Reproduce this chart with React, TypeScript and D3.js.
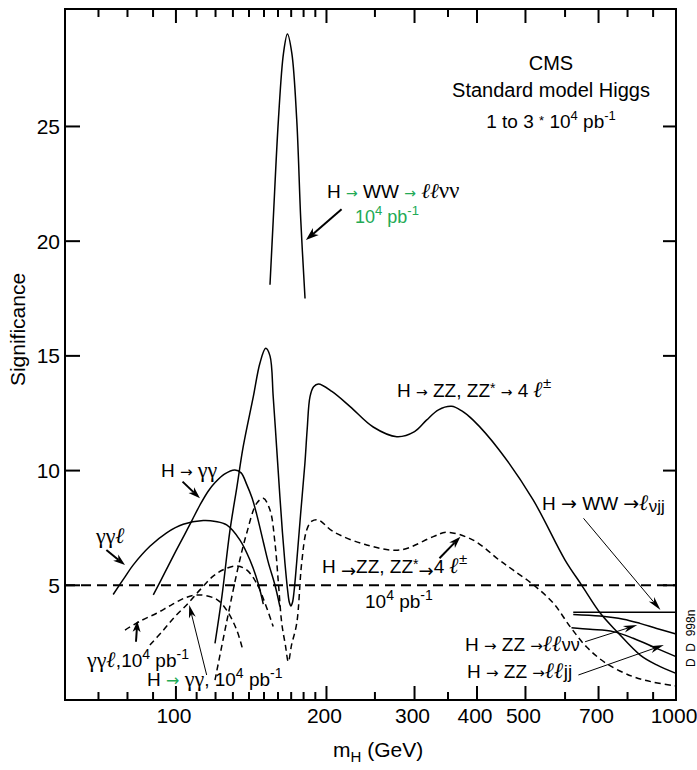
import React from 'react';
import * as d3 from 'd3';

const W = 697;
const H = 770;
const FONT = "'Liberation Sans', Arial, Helvetica, sans-serif";
const SERIF = "'Liberation Serif', 'Times New Roman', serif";
const ARROWF = "'DejaVu Sans', sans-serif";
const GREEN = '#22aa55';

// ---- axis ticks ----
const massMajor = [100, 200, 300, 400, 500, 700];
const massLabels = [100, 200, 300, 400, 500, 700, 1000];
const massMinor = [70, 80, 90, 110, 120, 130, 140, 150, 160, 170, 180, 190, 250, 350, 600, 800, 900];
const sigTicks = [5, 10, 15, 20, 25];

// ---- series: [mH (GeV), significance] ----
const wwLLvv10k = [
  [154.2, 18.1], [156.5, 20.9], [160.3, 25.3], [164.1, 28.2], [167.1, 29.03],
  [170.5, 28.2], [174.4, 25.3], [177.7, 20.9], [181.2, 17.5],
];
const zz4l = [
  [119.7, 2.47], [123.6, 4.53], [128.2, 7.37], [132.4, 9.28], [136.3, 11.04],
  [142.8, 13.22], [147.2, 14.68], [151.2, 15.33], [154.2, 15.0], [156.5, 13.22],
  [159, 11.0], [161.4, 8.86], [163.3, 7.3], [165.2, 5.96], [167.3, 4.75],
  [168.6, 4.25], [169.8, 4.1], [171, 4.25], [172.3, 4.75], [174.3, 5.96],
  [177.6, 8.14], [181.1, 10.32], [183, 11.8], [185.4, 13.22], [188.5, 13.65],
  [192.7, 13.77], [205, 13.45], [223, 12.79], [248, 11.9], [276.5, 11.48],
  [300, 11.7], [317, 12.2], [335, 12.65], [355.7, 12.8], [373, 12.6],
  [393, 12.2], [443, 10.9], [518, 8.72], [600, 6.1], [648, 5.0], [706, 3.78],
  [762, 2.98], [848, 1.96], [915, 1.53], [1000, 1.16],
];
const zz4l10k = [
  [119.7, 0.87], [126.3, 3.4], [133.2, 5.8], [138.5, 7.27], [145.0, 8.57],
  [149.5, 8.79], [154.2, 8.28], [157.8, 6.83], [160.3, 5.09], [162.8, 3.34],
  [165.5, 2.4], [167.8, 1.67], [170.3, 2.4], [174.4, 3.34], [178.4, 5.96],
  [182.6, 7.41], [187, 7.8], [192.7, 7.85], [206.3, 7.34], [240.6, 6.76],
  [280.6, 6.54], [327, 7.12], [347.9, 7.31], [393, 6.97], [443, 6.1],
  [472, 5.67], [520, 5.0], [569, 4.21], [614, 3.2], [662, 2.32], [725, 1.6],
  [820, 1.02], [900, 0.78], [1000, 0.61],
];
const gg = [
  [90.1, 4.58], [95, 5.55], [100, 6.5], [104, 7.2], [107.5, 7.8], [111.7, 8.5],
  [116, 9.1], [120, 9.5], [125, 9.85], [131.2, 10.03], [135, 9.9], [138.5, 9.4],
  [142, 8.8], [145, 8.1], [149.5, 6.9], [153, 6.0], [157.8, 5.0], [161.4, 4.07],
];
const gg10k = [
  [88.7, 2.4], [94, 3.0], [99.5, 3.63], [105.8, 4.22], [111.7, 4.8], [118.7, 5.4],
  [125, 5.7], [132.2, 5.84], [138.5, 5.67], [145, 5.09], [150.7, 4.22], [156.5, 3.2],
];
const ggl = [
  [74.9, 4.6], [79.1, 5.37], [82.1, 5.88], [88.7, 6.7], [95.8, 7.29], [103.4, 7.66],
  [113.4, 7.82], [120, 7.78], [126.3, 7.63], [134.3, 6.97], [140.6, 6.1],
  [146, 5.09], [149.5, 4.18],
];
const ggl10k = [
  [79.1, 3.05], [85, 3.45], [91.5, 3.78], [98, 4.15], [105.1, 4.48], [111.7, 4.58],
  [120.6, 4.39], [126.3, 3.92], [132.3, 3.05], [135.8, 2.25],
];
const wwLvjj = [[623, 3.82], [1000, 3.82]];
const zzLLvv = [[623, 3.73], [705, 3.66], [785, 3.52], [847, 3.34], [915, 3.12], [1000, 2.88]];
const zzLLjj = [[618, 3.15], [673, 3.08], [749, 2.98], [821, 2.69], [915, 2.25], [1000, 1.89]];
const discoveryLevel = [[60, 5], [1000, 5]];

export default function App() {
  const x = d3.scaleLog().domain([60, 1000]).range([65, 676]);
  const y = d3.scaleLinear().domain([0, 30.12]).range([700, 9]);
  const line = d3
    .line<number[]>()
    .x((d) => x(d[0]))
    .y((d) => y(d[1]))
    .curve(d3.curveCatmullRom.alpha(0.5));
  const straight = d3
    .line<number[]>()
    .x((d) => x(d[0]))
    .y((d) => y(d[1]));

  const left = x.range()[0];
  const right = x.range()[1];
  const top = y.range()[1];
  const bottom = y.range()[0];

  const Arrow = ({ from, to, sw, hl, hw }: { from: number[]; to: number[]; sw: number; hl: number; hw: number }) => {
    const x1 = x(from[0]), y1 = y(from[1]);
    const x2 = x(to[0]), y2 = y(to[1]);
    const dx = x2 - x1, dy = y2 - y1;
    const L = Math.hypot(dx, dy);
    const ux = dx / L, uy = dy / L;
    const px = -uy, py = ux;
    const bx = x2 - ux * hl, by = y2 - uy * hl;
    const nx = x2 - ux * hl * 0.72, ny = y2 - uy * hl * 0.72;
    const pts = [
      [x2, y2],
      [bx + (px * hw) / 2, by + (py * hw) / 2],
      [nx, ny],
      [bx - (px * hw) / 2, by - (py * hw) / 2],
    ];
    return (
      <g>
        <line x1={x1} y1={y1} x2={nx} y2={ny} stroke="#000" strokeWidth={sw} />
        <polygon points={pts.map((p) => p.join(',')).join(' ')} fill="#000" />
      </g>
    );
  };

  const curve = (d: number[][], dashed = false) => (
    <path
      d={line(d) || ''}
      fill="none"
      stroke="#000"
      strokeWidth={1.5}
      strokeDasharray={dashed ? '6,4' : undefined}
    />
  );

  const Arr = ({ size = 14, fill, dy }: { size?: number; fill?: string; dy?: number }) => (
    <tspan fontFamily={ARROWF} fontSize={size} fill={fill} dy={dy}>
      →
    </tspan>
  );

  return (
    <svg
      width={W}
      height={H}
      style={{ position: 'absolute', left: 0, top: 0, background: '#fff' }}
      fontFamily={FONT}
    >
      <rect x={0} y={0} width={W} height={H} fill="#fff" />

      {/* curves */}
      {curve(wwLLvv10k)}
      {curve(zz4l)}
      {curve(zz4l10k, true)}
      {curve(gg)}
      {curve(gg10k, true)}
      {curve(ggl)}
      {curve(ggl10k, true)}
      {curve(wwLvjj)}
      {curve(zzLLvv)}
      {curve(zzLLjj)}
      <path d={straight(discoveryLevel) || ''} fill="none" stroke="#000" strokeWidth={2} strokeDasharray="10,6" />

      {/* frame */}
      <rect x={left} y={top} width={right - left} height={bottom - top} fill="none" stroke="#000" strokeWidth={2} />

      {/* x ticks */}
      {massMajor.map((m) => (
        <g key={'M' + m}>
          <line x1={x(m)} x2={x(m)} y1={bottom} y2={bottom - 14} stroke="#000" strokeWidth={2} />
          <line x1={x(m)} x2={x(m)} y1={top} y2={top + 14} stroke="#000" strokeWidth={2} />
        </g>
      ))}
      {massMinor.map((m) => (
        <g key={'m' + m}>
          <line x1={x(m)} x2={x(m)} y1={bottom} y2={bottom - 8} stroke="#000" strokeWidth={2} />
          <line x1={x(m)} x2={x(m)} y1={top} y2={top + 8} stroke="#000" strokeWidth={2} />
        </g>
      ))}
      {massLabels.map((m) => (
        <text key={'l' + m} x={x(m) - 2} y={723} fontSize={21} textAnchor="middle">
          {m}
        </text>
      ))}

      {/* y ticks */}
      {sigTicks.map((s) => (
        <g key={'s' + s}>
          <line x1={left} x2={left + 15} y1={y(s)} y2={y(s)} stroke="#000" strokeWidth={2} />
          <line x1={right} x2={right - 13} y1={y(s)} y2={y(s)} stroke="#000" strokeWidth={2} />
          <text x={60} y={y(s) + 7.5} fontSize={21} textAnchor="end">
            {s}
          </text>
        </g>
      ))}

      {/* axis titles */}
      <text transform="translate(25,329.5) rotate(-90)" fontSize={21} textAnchor="middle">
        Significance
      </text>
      <text x={333} y={757} fontSize={21}>
        m<tspan fontSize={15} dy={5}>H</tspan>
        <tspan dy={-5}> (GeV)</tspan>
      </text>

      {/* header */}
      <text x={551} y={70} fontSize={20} textAnchor="middle">CMS</text>
      <text x={551} y={97} fontSize={20} textAnchor="middle">Standard model Higgs</text>
      <text x={551} y={128} fontSize={19} textAnchor="middle">
        1 to 3 <tspan fontSize={13} dy={-3}>*</tspan>
        <tspan dy={3}> 10</tspan>
        <tspan fontSize={13} dy={-8}>4</tspan>
        <tspan dy={8}> pb</tspan>
        <tspan fontSize={13} dy={-8}>-1</tspan>
      </text>

      {/* H -> WW -> ll nu nu */}
      <text x={327} y={198} fontSize={19}>
        H <Arr size={14} fill={GREEN} /> WW <Arr size={14} fill={GREEN} />{' '}
        <tspan fontFamily={SERIF} fontStyle="italic" fontSize={21}>ℓℓ</tspan>
        <tspan fontFamily={SERIF} fontSize={23}>νν</tspan>
      </text>
      <text x={355} y={223} fontSize={18} fill={GREEN}>
        10<tspan fontSize={13} dy={-8}>4</tspan>
        <tspan dy={8}> pb</tspan>
        <tspan fontSize={13} dy={-8}>-1</tspan>
      </text>
      <Arrow from={[214.4, 21.39]} to={[181.97, 20.05]} sw={2} hl={13} hw={9} />

      {/* H -> ZZ, ZZ* -> 4l */}
      <text x={397} y={397} fontSize={19}>
        H <Arr size={14} /> ZZ, ZZ<tspan fontSize={14} dy={-4}>*</tspan>
        <tspan dy={4}> </tspan>
        <Arr size={14} /> 4{' '}
        <tspan fontFamily={SERIF} fontStyle="italic" fontWeight="bold" fontSize={22}>ℓ</tspan>
        <tspan fontSize={15} dy={-9}>±</tspan>
      </text>

      {/* dashed ZZ label */}
      <text x={322} y={573} fontSize={19}>
        H <Arr size={18} dy={4} />
        <tspan dy={-4}>ZZ, ZZ</tspan>
        <tspan fontSize={14} dy={-4}>*</tspan>
        <Arr size={18} dy={8} />
        <tspan dy={-4}>4 </tspan>
        <tspan fontFamily={SERIF} fontStyle="italic" fontWeight="bold" fontSize={22}>ℓ</tspan>
        <tspan fontSize={15} dy={-9}>±</tspan>
      </text>
      <text x={365} y={608} fontSize={19}>
        10<tspan fontSize={14} dy={-8}>4</tspan>
        <tspan dy={8}> pb</tspan>
        <tspan fontSize={14} dy={-8}>-1</tspan>
      </text>
      <Arrow from={[336.5, 6.18]} to={[370.6, 7.12]} sw={2} hl={12} hw={8} />

      {/* H -> gamma gamma */}
      <text x={161} y={477} fontSize={19}>
        H <Arr size={15} />{' '}
        <tspan fontFamily={SERIF} fontSize={22}>γγ</tspan>
      </text>
      <Arrow from={[103.1, 9.52]} to={[111.7, 8.79]} sw={2} hl={12} hw={8} />

      {/* gamma gamma l */}
      <text x={96} y={543} fontSize={20}>
        <tspan fontFamily={SERIF} fontSize={22}>γγ</tspan>
        <tspan fontFamily={SERIF} fontStyle="italic" fontWeight="bold" fontSize={22}>ℓ</tspan>
      </text>
      <Arrow from={[72.6, 6.54]} to={[79.1, 5.88]} sw={2} hl={12} hw={8} />

      {/* gamma gamma l, 10^4 */}
      <text x={87} y={667} fontSize={19}>
        <tspan fontFamily={SERIF} fontSize={22}>γγ</tspan>
        <tspan fontFamily={SERIF} fontStyle="italic" fontWeight="bold" fontSize={22}>ℓ</tspan>
        ,10<tspan fontSize={14} dy={-8}>4</tspan>
        <tspan dy={8}> pb</tspan>
        <tspan fontSize={14} dy={-8}>-1</tspan>
      </text>
      <Arrow from={[83.2, 2.54]} to={[83.7, 3.44]} sw={2} hl={11} hw={8} />

      {/* H -> gamma gamma, 10^4 */}
      <text x={147} y={686} fontSize={19}>
        H <Arr size={16} fill={GREEN} />{' '}
        <tspan fontFamily={SERIF} fontSize={22}>γγ</tspan>, 10
        <tspan fontSize={14} dy={-8}>4</tspan>
        <tspan dy={8}> pb</tspan>
        <tspan fontSize={14} dy={-8}>-1</tspan>
      </text>
      <Arrow from={[115.2, 1.09]} to={[106.3, 4.14]} sw={1} hl={13} hw={7} />

      {/* H -> WW -> l nu jj */}
      <text x={542} y={510} fontSize={19}>
        H <Arr size={19} /> WW <Arr size={19} />
        <tspan fontFamily={SERIF} fontStyle="italic" fontWeight="bold" fontSize={22}>ℓ</tspan>
        <tspan fontSize={17} dy={2}>νjj</tspan>
      </text>
      <Arrow from={[653.2, 7.92]} to={[931, 3.92]} sw={1} hl={14} hw={7} />

      {/* H -> ZZ -> ll nu nu */}
      <text x={465} y={651} fontSize={19}>
        H <Arr size={15} /> ZZ <Arr size={15} />
        <tspan fontFamily={SERIF} fontStyle="italic" fontWeight="bold" fontSize={22}>ℓℓ</tspan>
        <tspan fontSize={18}>νν</tspan>
      </text>
      <Arrow from={[658, 2.54]} to={[836.6, 3.27]} sw={1} hl={14} hw={7} />

      {/* H -> ZZ -> ll jj */}
      <text x={467} y={678} fontSize={19}>
        H <Arr size={15} /> ZZ <Arr size={15} />
        <tspan fontFamily={SERIF} fontStyle="italic" fontWeight="bold" fontSize={22}>ℓℓ</tspan>
        <tspan>jj</tspan>
      </text>
      <Arrow from={[638, 1.09]} to={[945.6, 2.4]} sw={1} hl={14} hw={7} />

      {/* side stamp */}
      <text transform="translate(695,667) rotate(-90)" fontSize={12}>
        D{'\u00a0\u00a0'}D{'\u00a0\u00a0'}998n
      </text>
    </svg>
  );
}
